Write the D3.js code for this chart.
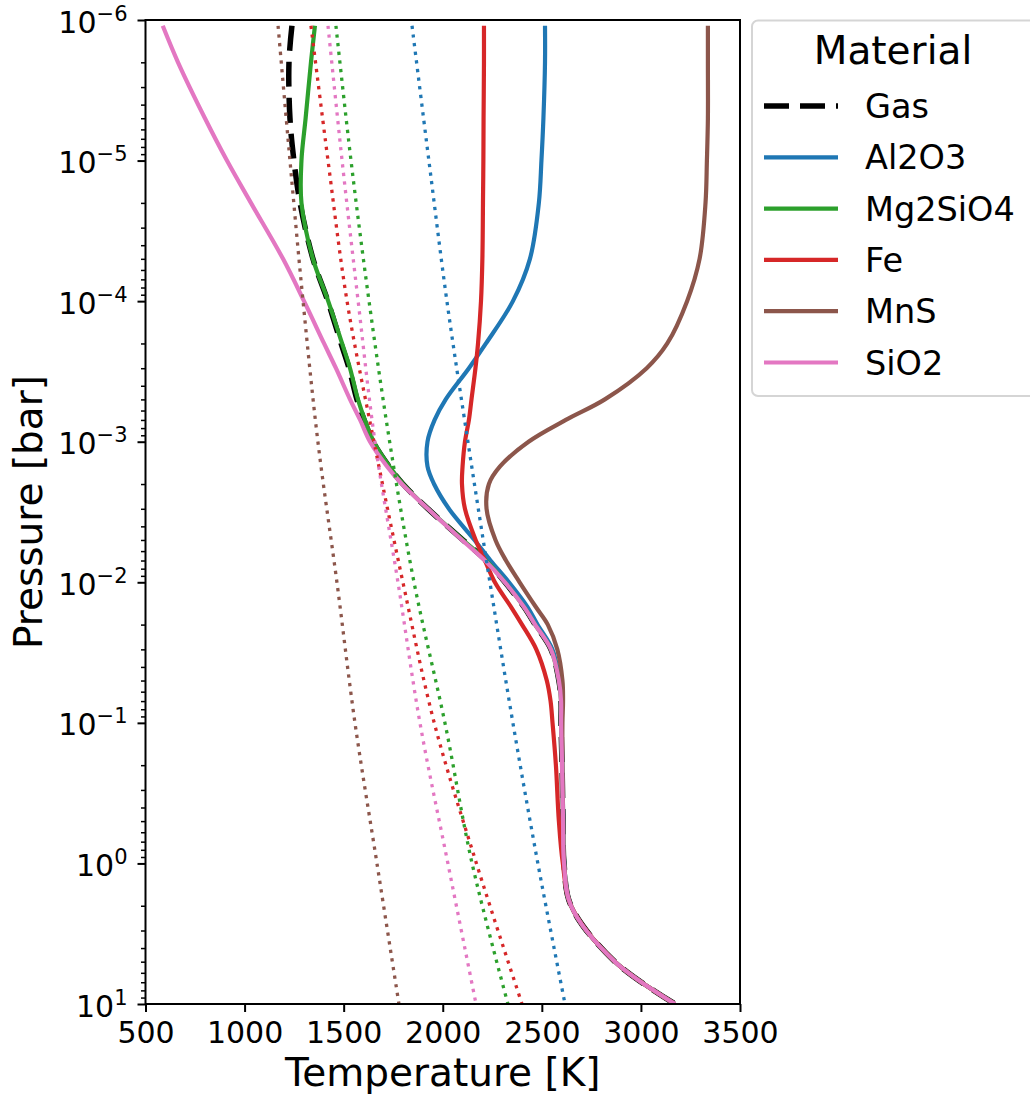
<!DOCTYPE html>
<html lang="en">
<head>
<meta charset="UTF-8">
<title>Condensation curves</title>
<style>
  body { margin: 0; background: #fff; }
  svg { display: block; font-family: "DejaVu Sans", sans-serif; }
  svg .tick line { stroke: #000; }
  svg .domain { display: none; }
  svg .frame { fill: none; stroke: #000; stroke-width: 2px; }
  svg .curve { fill: none; stroke-linejoin: round; }
  svg .legend-box { fill: #fff; stroke: #d5d5d5; stroke-width: 2px; }
</style>
</head>
<body>
<div id="chart"></div>
<script src="https://cdnjs.cloudflare.com/ajax/libs/d3/7.8.5/d3.min.js"></script>
<script>
  // materials, in plotting order
  var materials = ['Gas', 'Al2O3', 'Mg2SiO4', 'Fe', 'MnS', 'SiO2'];
  var colors = ['#000000', '#1f77b4', '#2ca02c', '#d62728', '#8c564b', '#e377c2'];

  // P-T profiles (pressure in bar, temperature in K)
  var pressures = [1.1e-6, 2e-6, 5e-6, 1e-5, 2e-5, 5e-5, 1e-4, 2e-4, 3e-4, 5e-4, 7e-4,
    1e-3, 1.5e-3, 2e-3, 3e-3, 5e-3, 7e-3, 1e-2, 1.5e-2, 2e-2, 3e-2, 5e-2, 7e-2,
    1e-1, 2e-1, 5e-1, 1, 2, 5, 10];
  var gasT = [1239, 1224, 1229, 1249, 1280, 1345, 1420, 1487, 1527, 1567, 1603,
    1648, 1729, 1799, 1925, 2102, 2218, 2314, 2410, 2466, 2546, 2586, 2597,
    2597, 2602, 2607, 2612, 2647, 2869, 3172];
  var al2o3T = [2516, 2516, 2508, 2498, 2485, 2440, 2354, 2218, 2132, 2015, 1959,
    1923, 1923, 1956, 2031, 2160, 2241, 2334, 2428, 2478, 2553, 2590, 2600,
    2599, 2603, 2608, 2613, 2647, 2869, 3172];
  var mg2sio4T = [1355, 1335, 1308, 1287, 1287, 1345, 1422, 1492, 1532, 1572, 1607,
    1652, 1731, 1800, 1925, 2102, 2218, 2314, 2410, 2466, 2546, 2586, 2597,
    2597, 2602, 2607, 2612, 2647, 2869, 3172];
  var feT = [2208, 2208, 2206, 2205, 2203, 2200, 2193, 2178, 2165, 2145, 2132,
    2112, 2100, 2097, 2112, 2166, 2213, 2263, 2345, 2400, 2472, 2525, 2544,
    2554, 2571, 2586, 2606, 2647, 2869, 3172];
  var mnsT = [3338, 3338, 3338, 3333, 3326, 3296, 3233, 3133, 3029, 2818, 2621,
    2433, 2289, 2233, 2221, 2266, 2319, 2388, 2470, 2530, 2578, 2604, 2607,
    2604, 2604, 2608, 2613, 2647, 2869, 3172];
  var sio2T = [587, 664, 800, 911, 1032, 1194, 1300, 1401, 1461, 1532, 1583,
    1633, 1719, 1794, 1925, 2097, 2213, 2314, 2410, 2466, 2546, 2586, 2597,
    2597, 2602, 2607, 2612, 2647, 2869, 3172];

  // condensation curves (dotted)
  var condPressures = [1.1e-6, 1e-5, 1e-4, 1e-3, 1e-2, 1e-1, 1, 10];
  var al2o3Cond = [1845, 1930, 2021, 2127, 2238, 2354, 2480, 2617];
  var mg2sio4Cond = [1461, 1537, 1628, 1732, 1855, 2011, 2148, 2329];
  var feCond = [1335, 1421, 1517, 1653, 1799, 1957, 2170, 2400];
  var mnsCond = [1169, 1229, 1295, 1370, 1466, 1557, 1668, 1779];
  var sio2Cond = [1421, 1492, 1573, 1658, 1774, 1885, 2026, 2168];

  var xTicks = [500, 1000, 1500, 2000, 2500, 3000, 3500];
  var yExponents = [-6, -5, -4, -3, -2, -1, 0, 1];

  var profiles = [gasT, al2o3T, mg2sio4T, feT, mnsT, sio2T];
  var condCurves = [null, al2o3Cond, mg2sio4Cond, feCond, mnsCond, sio2Cond];

  var width = 1030,
    height = 1099,
    plot = {left: 145.5, right: 740, top: 20, bottom: 1004};

  var svg = d3.select('#chart').append('svg')
    .attr('width', width)
    .attr('height', height);

  var x = d3.scaleLinear().domain([500, 3500]).range([plot.left, plot.right]);
  var y = d3.scaleLog().domain([1e-6, 10]).range([plot.top, plot.bottom]);

  svg.append('clipPath').attr('id', 'plot-clip')
    .append('rect')
    .attr('x', plot.left).attr('y', plot.top)
    .attr('width', plot.right - plot.left).attr('height', plot.bottom - plot.top);

  var line = d3.line()
    .x(function(d) { return x(d.t); })
    .y(function(d) { return y(d.p); })
    .curve(d3.curveCatmullRom.alpha(0.5));

  var zipPT = function(ps, ts) {
    return ps.map(function(p, i) { return {p: p, t: ts[i]}; });
  };

  var curves = svg.append('g').attr('clip-path', 'url(#plot-clip)');

  // solid profiles
  profiles.forEach(function(ts, i) {
    var path = curves.append('path')
      .attr('class', 'curve')
      .attr('d', line(zipPT(pressures, ts)))
      .attr('stroke', colors[i]);
    if (i === 0) {
      path.attr('stroke-width', 5.5).attr('stroke-dasharray', '25,11');
    } else {
      path.attr('stroke-width', 4.2);
    }
  });

  // dotted condensation curves
  condCurves.forEach(function(ts, i) {
    if (!ts) return;
    curves.append('path')
      .attr('class', 'curve')
      .attr('d', line(zipPT(condPressures, ts)))
      .attr('stroke', colors[i])
      .attr('stroke-width', 3.3)
      .attr('stroke-dasharray', '3.3,5.4');
  });

  // x axis
  var xAxis = svg.append('g')
    .attr('transform', 'translate(0,' + plot.bottom + ')')
    .call(d3.axisBottom(x).tickValues(xTicks).tickSize(8).tickSizeOuter(0).tickPadding(10)
      .tickFormat(d3.format('d')));
  xAxis.selectAll('.tick line').attr('stroke-width', 2);
  xAxis.selectAll('text')
    .attr('font-size', 30)
    .attr('font-family', '"DejaVu Sans", sans-serif')
    .attr('fill', '#000');

  // y axis, minor ticks
  var minorValues = [];
  yExponents.slice(0, -1).forEach(function(e) {
    for (var k = 2; k <= 9; k++) minorValues.push(k * Math.pow(10, e));
  });
  var yMinor = svg.append('g')
    .attr('transform', 'translate(' + plot.left + ',0)')
    .call(d3.axisLeft(y).tickValues(minorValues).tickSize(4.5).tickSizeOuter(0)
      .tickFormat(function() { return ''; }));
  yMinor.selectAll('.tick line').attr('stroke-width', 1.5);

  // y axis, major ticks
  var yMajor = svg.append('g')
    .attr('transform', 'translate(' + plot.left + ',0)')
    .call(d3.axisLeft(y).tickValues(yExponents.map(function(e) { return Math.pow(10, e); }))
      .tickSize(8).tickSizeOuter(0).tickFormat(function() { return ''; }));
  yMajor.selectAll('.tick line').attr('stroke-width', 2);
  yMajor.selectAll('.tick text').remove();
  yMajor.selectAll('.tick').each(function(d, i) {
    var t = d3.select(this).append('text')
      .attr('x', -18)
      .attr('y', 12)
      .attr('text-anchor', 'end')
      .attr('fill', '#000')
      .attr('font-size', 30)
      .attr('font-family', '"DejaVu Sans", sans-serif');
    t.append('tspan').text('10');
    var e = yExponents[i];
    t.append('tspan')
      .attr('dy', -12)
      .attr('font-size', 21)
      .text(e < 0 ? '\u2212' + Math.abs(e) : String(e));
  });

  // frame
  svg.append('rect')
    .attr('class', 'frame')
    .attr('x', plot.left).attr('y', plot.top)
    .attr('width', plot.right - plot.left).attr('height', plot.bottom - plot.top);

  // axis labels
  svg.append('text')
    .attr('x', (plot.left + plot.right) / 2)
    .attr('y', 1086)
    .attr('text-anchor', 'middle')
    .attr('font-size', 39)
    .text('Temperature [K]');

  svg.append('text')
    .attr('transform', 'translate(42,' + ((plot.top + plot.bottom) / 2) + ') rotate(-90)')
    .attr('text-anchor', 'middle')
    .attr('font-size', 39)
    .text('Pressure [bar]');

  // legend
  var legend = svg.append('g');
  legend.append('rect')
    .attr('class', 'legend-box')
    .attr('x', 752).attr('y', 20.5)
    .attr('width', 320).attr('height', 375.5)
    .attr('rx', 6);
  legend.append('text')
    .attr('x', 893).attr('y', 64)
    .attr('text-anchor', 'middle')
    .attr('font-size', 39)
    .text('Material');

  var entries = legend.selectAll('.entry')
    .data(materials)
    .enter()
    .append('g')
    .attr('class', 'entry')
    .attr('transform', function(d, i) { return 'translate(0,' + (106 + i * 51.3) + ')'; });

  entries.append('line')
    .attr('x1', 764).attr('x2', 838)
    .attr('y1', 0).attr('y2', 0)
    .attr('stroke', function(d, i) { return colors[i]; })
    .attr('stroke-width', function(d, i) { return i === 0 ? 5.5 : 4.2; })
    .attr('stroke-dasharray', function(d, i) { return i === 0 ? '25,11' : null; });

  entries.append('text')
    .attr('x', 865).attr('y', 12)
    .attr('font-size', 33.5)
    .text(function(d) { return d; });
</script>
</body>
</html>
